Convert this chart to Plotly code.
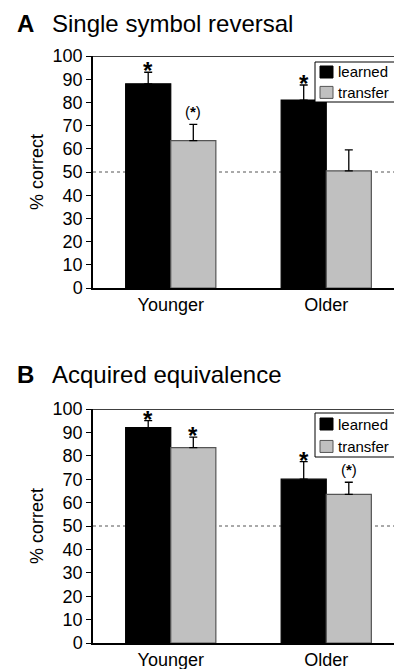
import plotly.graph_objects as go

groups = ["Younger", "Older"]
series_names = ["learned", "transfer"]

A_learned = [88, 81]
A_learned_err = [5, 6.5]
A_transfer = [63.5, 50.5]
A_transfer_err = [7, 9]
A_learned_sig = ["*", "*"]
A_transfer_sig = ["(*)", ""]

B_learned = [92, 70]
B_learned_err = [3, 7.5]
B_transfer = [83.5, 63.5]
B_transfer_err = [4.5, 5.2]
B_learned_sig = ["*", "*"]
B_transfer_sig = ["*", "(*)"]

y_ticks = list(range(0, 101, 10))
chance = 50

W, H = 394, 669
FONT = "Liberation Sans, Arial, Helvetica, sans-serif"
bargap = 0.42
colors = ["black", "#c0c0c0"]
edges = ["black", "#555555"]

fig = go.Figure()


def px_y(p):
    return 1 - p / H


def px_x(p):
    return p / W


panels = [
    dict(name="A", title="Single symbol reversal", learned=A_learned, lerr=A_learned_err,
         transfer=A_transfer, terr=A_transfer_err, lsig=A_learned_sig, tsig=A_transfer_sig,
         top=56, bottom=288, xa="x", ya="y", title_y=23, leg_top=62, leg_bot=102),
    dict(name="B", title="Acquired equivalence", learned=B_learned, lerr=B_learned_err,
         transfer=B_transfer, terr=B_transfer_err, lsig=B_learned_sig, tsig=B_transfer_sig,
         top=409, bottom=643, xa="x2", ya="y2", title_y=374, leg_top=413, leg_bot=457),
]

annotations = []
shapes = []
for i, p in enumerate(panels):
    for k, (vals, errs) in enumerate([(p["learned"], p["lerr"]), (p["transfer"], p["terr"])]):
        fig.add_trace(go.Bar(
            x=groups, y=vals, name=series_names[k], xaxis=p["xa"], yaxis=p["ya"],
            marker=dict(color=colors[k], line=dict(color=edges[k], width=1.2)),
            error_y=dict(type="data", symmetric=False, array=errs, arrayminus=[0] * len(groups),
                         color="black", thickness=1.3, width=4),
            showlegend=False,
        ))
    off = (1 - bargap) / 4
    for gi in range(len(groups)):
        for s, vals, errs, sigs in [(-off, p["learned"], p["lerr"], p["lsig"]),
                                    (off, p["transfer"], p["terr"], p["tsig"])]:
            if sigs[gi]:
                paren = sigs[gi].startswith("(")
                txt = sigs[gi].replace("*", "<b>*</b>")
                annotations.append(dict(
                    x=gi + s, y=vals[gi] + errs[gi], xref=p["xa"], yref=p["ya"],
                    text=txt, showarrow=False, yanchor="bottom",
                    yshift=2 if paren else -14,
                    font=dict(family=FONT, size=15 if paren else 24, color="black")))
    # panel title
    annotations.append(dict(x=px_x(15), y=px_y(p["title_y"]), xref="paper", yref="paper",
                            text="<b>" + p["name"] + "</b>", showarrow=False,
                            xanchor="left", yanchor="middle",
                            font=dict(family=FONT, size=24, color="black")))
    annotations.append(dict(x=px_x(50), y=px_y(p["title_y"]), xref="paper", yref="paper",
                            text=p["title"], showarrow=False,
                            xanchor="left", yanchor="middle",
                            font=dict(family=FONT, size=24, color="black")))
    shapes.append(dict(type="line", xref=p["xa"] + " domain", yref=p["ya"], x0=0, x1=1,
                       y0=chance, y1=chance, layer="below",
                       line=dict(color="#555555", width=1, dash="3px,3px")))
    shapes.append(dict(type="line", xref=p["xa"] + " domain", yref=p["ya"], x0=0, x1=1,
                       y0=100, y1=100, line=dict(color="black", width=1.5)))
    # legend box
    lt, lb = p["leg_top"], p["leg_bot"]
    shapes.append(dict(type="rect", xref="paper", yref="paper",
                       x0=px_x(315), x1=px_x(400), y0=px_y(lb), y1=px_y(lt),
                       fillcolor="white", line=dict(color="black", width=1)))
    rows = [lt + (lb - lt) * 0.25, lt + (lb - lt) * 0.76]
    for k, name in enumerate(series_names):
        yc = rows[k]
        shapes.append(dict(type="rect", xref="paper", yref="paper",
                           x0=px_x(320), x1=px_x(333), y0=px_y(yc + 6), y1=px_y(yc - 6),
                           fillcolor=colors[k], line=dict(color=edges[k], width=1)))
        annotations.append(dict(x=px_x(336), y=px_y(yc), xref="paper", yref="paper",
                                text=name, showarrow=False, xanchor="left", yanchor="middle",
                                font=dict(family=FONT, size=15, color="black")))

# x domain runs from 93 px to the right edge of the figure; keep 155.5 px per category
x_left, x_right = 93, W
unit = 155.5
x_range = [-0.5, -0.5 + (x_right - x_left) / unit]
axis_common_x = dict(type="category", range=x_range, showline=True, linecolor="black",
                     linewidth=1.5, ticks="", showgrid=False, zeroline=False, automargin=False,
                     tickfont=dict(family=FONT, size=18, color="black"), fixedrange=True)
axis_common_y = dict(range=[0, 100], tickvals=y_ticks, showline=True, linecolor="black",
                     linewidth=1.5, ticks="outside", ticklen=5, tickcolor="black",
                     showgrid=False, zeroline=False, automargin=False,
                     tickfont=dict(family=FONT, size=18, color="black"),
                     title=dict(text="% correct", font=dict(family=FONT, size=18, color="black"),
                                standoff=4))

fig.update_layout(
    width=W, height=H,
    margin=dict(l=0, r=0, t=0, b=0, autoexpand=False),
    paper_bgcolor="white", plot_bgcolor="white",
    barmode="group", bargap=bargap, bargroupgap=0,
    font=dict(family=FONT, color="black"),
    xaxis=dict(domain=[px_x(x_left), 1], anchor="y", **axis_common_x),
    yaxis=dict(domain=[px_y(panels[0]["bottom"]), px_y(panels[0]["top"])], anchor="x",
               **axis_common_y),
    xaxis2=dict(domain=[px_x(x_left), 1], anchor="y2", **axis_common_x),
    yaxis2=dict(domain=[px_y(panels[1]["bottom"]), px_y(panels[1]["top"])], anchor="x2",
                **axis_common_y),
    annotations=annotations,
    shapes=shapes,
    showlegend=False,
)

fig.write_html(
    "out.html",
    config={"displayModeBar": False},
    post_script="document.documentElement.style.margin='0';document.body.style.margin='0';"
                "document.body.style.overflow='hidden';",
)
